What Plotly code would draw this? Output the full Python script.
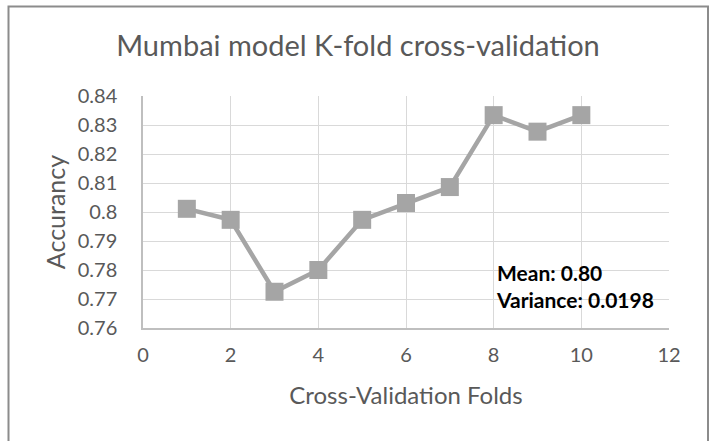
import plotly.graph_objects as go

# Accuracy per fold from 10-fold cross-validation
folds = [1, 2, 3, 4, 5, 6, 7, 8, 9, 10]
accuracy = [0.8011, 0.7973, 0.7725, 0.7800, 0.7973, 0.8031, 0.8086, 0.8334, 0.8277, 0.8334]
x_ticks = [0, 2, 4, 6, 8, 10, 12]
y_ticks = [0.76, 0.77, 0.78, 0.79, 0.80, 0.81, 0.82, 0.83, 0.84]
y_tick_text = ["0.76", "0.77", "0.78", "0.79", "0.8", "0.81", "0.82", "0.83", "0.84"]
summary_text = "Mean: 0.80<br>Variance: 0.0198"

W, H = 715, 441
ML, MR, MT, MB = 143, 46, 96, 113
PW, PH = W - ML - MR, H - MT - MB

FONT = "Lato"
TXT = "#595959"
GREY = "#a5a5a5"

fig = go.Figure()
fig.add_trace(go.Scatter(
    x=folds, y=accuracy, mode="lines+markers",
    line=dict(color=GREY, width=4.5),
    marker=dict(symbol="square", size=18, color=GREY),
    showlegend=False, hoverinfo="x+y",
))

fig.add_annotation(
    x=8, y=0.7745, xref="x", yref="y", xanchor="left", yanchor="middle",
    text="<b>" + summary_text + "</b>", showarrow=False, align="left",
    font=dict(family=FONT, size=21, color="#000000"),
)

# outer chart border (bottom edge runs past the page)
def px_to_paper_x(px):
    return (px - ML) / PW

def px_to_paper_y(py):
    return (H - MB - py) / PH

fig.add_shape(
    type="rect", xref="paper", yref="paper",
    x0=px_to_paper_x(8.5), x1=px_to_paper_x(708),
    y0=px_to_paper_y(450), y1=px_to_paper_y(6.5),
    line=dict(color="#8c8c8c", width=2), fillcolor="rgba(0,0,0,0)", layer="below",
)

fig.update_layout(
    width=W, height=H,
    margin=dict(l=ML, r=MR, t=MT, b=MB),
    paper_bgcolor="white", plot_bgcolor="white",
    title=dict(text="Mumbai model K-fold cross-validation", x=358 / W, xref="container",
               y=1 - 46 / H, yanchor="middle", xanchor="center",
               font=dict(family=FONT, size=29, color=TXT)),
    font=dict(family=FONT, color=TXT),
)
fig.update_xaxes(
    range=[0, 12], tickvals=x_ticks, ticktext=[str(v) for v in x_ticks],
    showgrid=True, gridcolor="#d9d9d9", gridwidth=1.3,
    showline=True, linecolor="#bfbfbf", linewidth=1.5, zeroline=False,
    ticks="", ticklabelstandoff=8,
    tickfont=dict(family=FONT, size=20, color=TXT),
    title=dict(text="Cross-Validation Folds", standoff=22,
               font=dict(family=FONT, size=24, color=TXT)),
)
fig.update_yaxes(
    range=[0.76, 0.84], tickvals=y_ticks, ticktext=y_tick_text,
    showgrid=True, gridcolor="#d9d9d9", gridwidth=1.3,
    showline=True, linecolor="#bfbfbf", linewidth=1.5, zeroline=False,
    ticks="", ticklabelstandoff=20,
    tickfont=dict(family=FONT, size=20, color=TXT),
    title=dict(text="Accurancy", standoff=5,
               font=dict(family=FONT, size=25, color=TXT)),
)

fig.write_html("out.html")
